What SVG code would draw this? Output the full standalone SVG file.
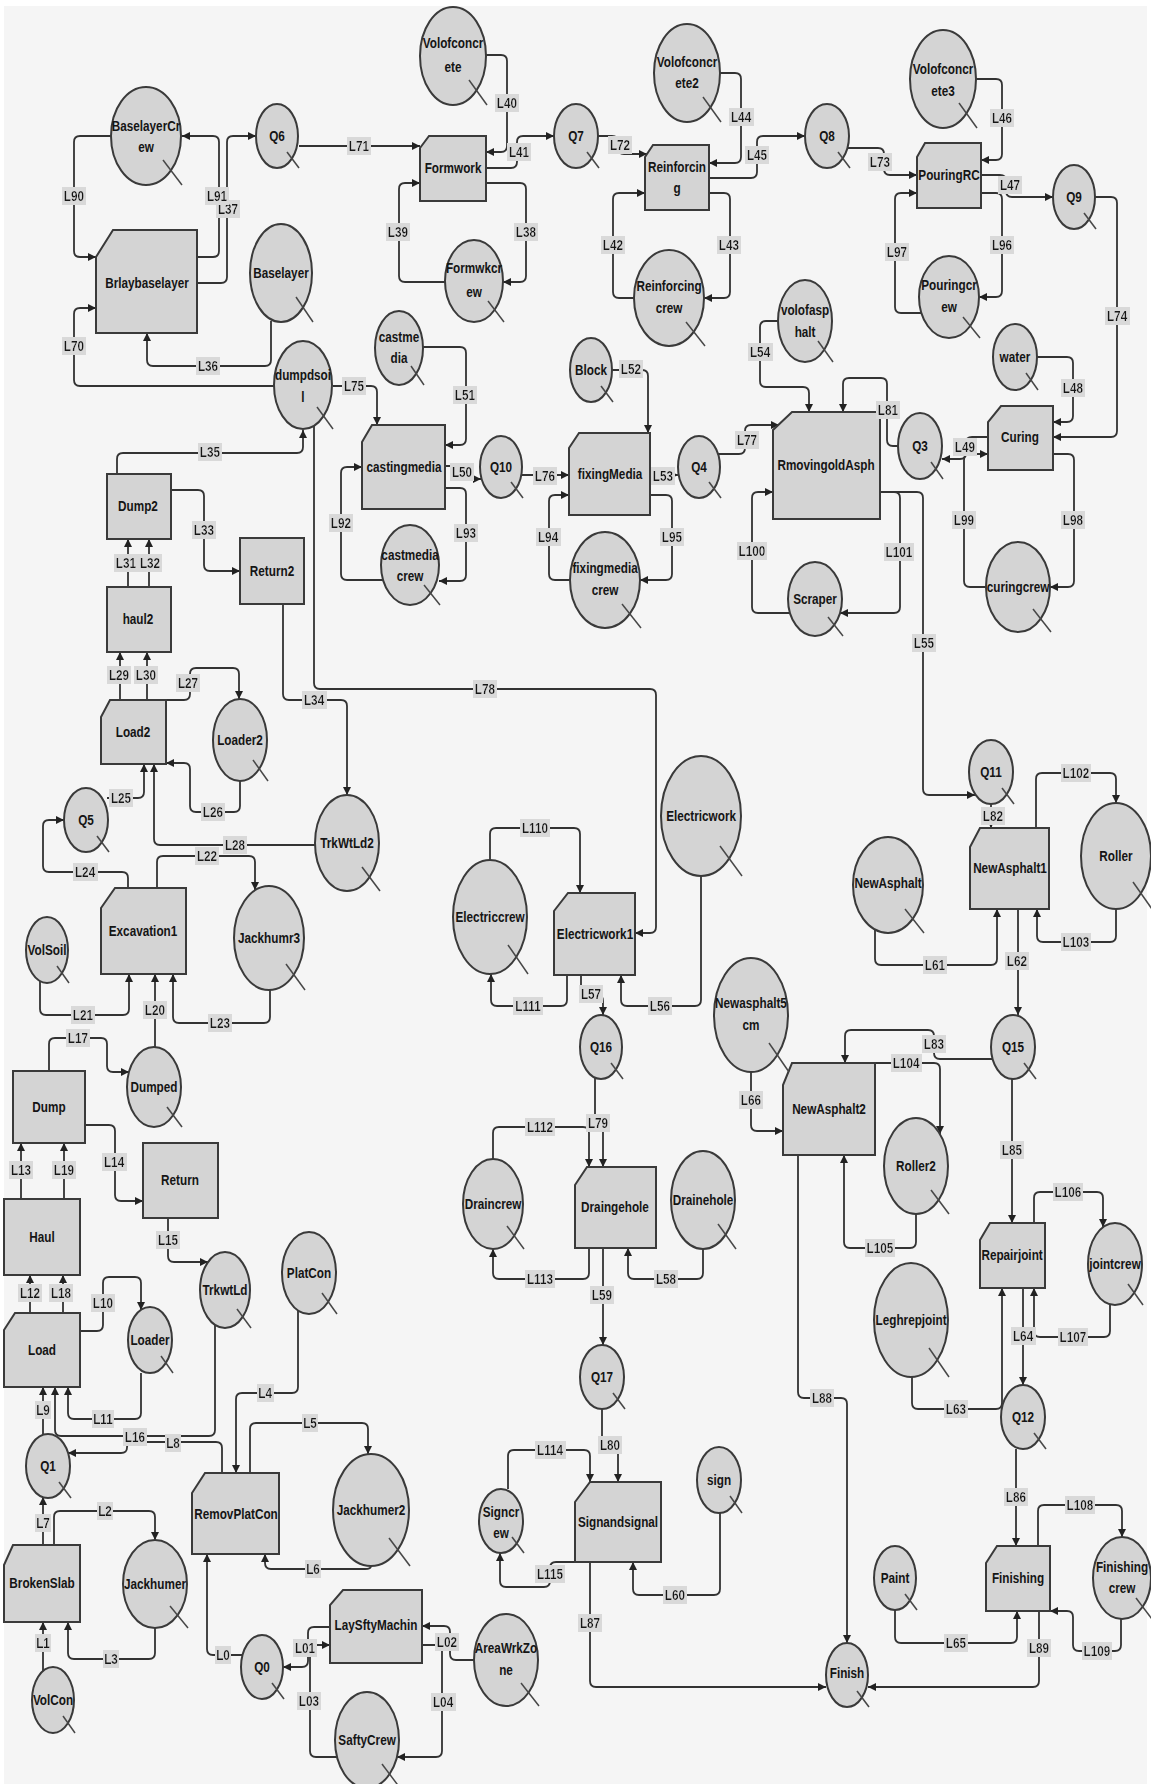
<svg xmlns="http://www.w3.org/2000/svg" width="1151" height="1784" viewBox="0 0 1151 1784">
<defs>
<style>
.c{fill:none;stroke:#333;stroke-width:1.8;marker-end:url(#ah)}
.n ellipse,.n path,.n rect{fill:#d4d4d4;stroke:#3a3a3a;stroke-width:2}
.n line{stroke:#474747;stroke-width:1.5}
.n text,.lb text{font-family:"Liberation Sans",Arial,sans-serif;font-weight:bold;font-size:14px;fill:#151515;text-anchor:middle;dominant-baseline:central;transform-box:fill-box;transform-origin:center;transform:scaleX(0.84)}
.lb text{filter:url(#bg)}
</style>
<marker id="ah" viewBox="0 0 10 10" refX="10" refY="5" markerWidth="9" markerHeight="8" markerUnits="userSpaceOnUse" orient="auto"><path d="M0,0L10,5L0,10z" fill="#222"/></marker>
<filter id="bg" x="-0.06" y="-0.02" width="1.12" height="1.04"><feFlood flood-color="#d9d9d9"/><feComposite in="SourceGraphic"/></filter>
</defs>
<rect width="1151" height="1784" fill="#ffffff"/>
<rect x="4" y="6" width="1143" height="1778" fill="#f5f5f5"/>
<g id="connectors">
<path id="L90" class="c" d="M111,136 H80 Q74,136 74,142 V251 Q74,257 80,257 H96"/>
<path id="L91" class="c" d="M197,257 H213 Q219,257 219,251 V142 Q219,136 213,136 H182"/>
<path id="L37" class="c" d="M197,283 H221 Q227,283 227,277 V142 Q227,136 233,136 H256"/>
<path id="L71" class="c" d="M299,146 H420"/>
<path id="L36" class="c" d="M271,321 V360 Q271,366 265,366 H153 Q147,366 147,360 V333"/>
<path id="L70" class="c" d="M274,386 H80 Q74,386 74,380 V314 Q74,308 80,308 H96"/>
<path id="L75" class="c" d="M333,386 H371 Q377,386 377,392 V425"/>
<path id="L40" class="c" d="M486,55 H501 Q507,55 507,61 V146 Q507,152 501,152 H486"/>
<path id="L41" class="c" d="M486,168 H511 Q517,168 517,162 V142 Q517,136 523,136 H554"/>
<path id="L72" class="c" d="M598,136 H612 Q618,136 618,142 V148 Q618,154 624,154 H647"/>
<path id="L44" class="c" d="M720,73 H735 Q741,73 741,79 V157 Q741,163 735,163 H709"/>
<path id="L45" class="c" d="M709,178 H751 Q757,178 757,172 V142 Q757,136 763,136 H805"/>
<path id="L42" class="c" d="M634,298 H619 Q613,298 613,292 V199 Q613,193 619,193 H645"/>
<path id="L43" class="c" d="M709,193 H724 Q730,193 730,199 V292 Q730,298 724,298 H704"/>
<path id="L38" class="c" d="M486,183 H520 Q526,183 526,189 V276 Q526,282 520,282 H503"/>
<path id="L39" class="c" d="M445,282 H405 Q399,282 399,276 V189 Q399,183 405,183 H420"/>
<path id="L46" class="c" d="M976,79 H996 Q1002,79 1002,85 V154 Q1002,160 996,160 H981"/>
<path id="L73" class="c" d="M848,148 H878 Q884,148 884,154 V169 Q884,175 890,175 H917"/>
<path id="L47" class="c" d="M981,175 H1000 Q1006,175 1006,181 V191 Q1006,197 1012,197 H1053"/>
<path id="L74" class="c" d="M1095,197 H1111 Q1117,197 1117,203 V431 Q1117,437 1111,437 H1053"/>
<path id="L96" class="c" d="M981,193 H996 Q1002,193 1002,199 V291 Q1002,297 996,297 H979"/>
<path id="L97" class="c" d="M921,313 H901 Q895,313 895,307 V199 Q895,193 901,193 H917"/>
<path id="L48" class="c" d="M1037,357 H1067 Q1073,357 1073,363 V416 Q1073,422 1067,422 H1053"/>
<path id="L54" class="c" d="M778,321 H766 Q760,321 760,327 V381 Q760,387 766,387 H803 Q809,387 809,393 V412"/>
<path id="L81" class="c" d="M898,446 H893 Q887,446 887,440 V384 Q887,378 881,378 H849 Q843,378 843,384 V412"/>
<path id="L49" class="c" d="M988,437 H972 Q966,437 966,443 V453 Q966,459 960,459 H942"/>
<path id="L99" class="c" d="M986,587 H970 Q964,587 964,581 V460 Q964,454 970,454 H988"/>
<path id="L98" class="c" d="M1053,454 H1068 Q1074,454 1074,460 V581 Q1074,587 1068,587 H1050"/>
<path id="L101" class="c" d="M880,492 H894 Q900,492 900,498 V607 Q900,613 894,613 H840"/>
<path id="L55" class="c" d="M880,492 H917 Q923,492 923,498 V789 Q923,795 929,795 H975"/>
<path id="L100" class="c" d="M790,613 H758 Q752,613 752,607 V498 Q752,492 758,492 H773"/>
<path id="L51" class="c" d="M423,347 H460 Q466,347 466,353 V439 Q466,445 460,445 H445"/>
<path id="L52" class="c" d="M612,370 H642 Q648,370 648,376 V433"/>
<path id="L77" class="c" d="M718,454 H739 Q745,454 745,448 V431 Q745,425 751,425 H779"/>
<path id="L50" class="c" d="M445,466 H460 L468,479 H481"/>
<path id="L76" class="c" d="M522,475 H569"/>
<path id="L53" class="c" d="M650,475 H678"/>
<path id="L92" class="c" d="M383,580 H347 Q341,580 341,574 V473 Q341,467 347,467 H362"/>
<path id="L93" class="c" d="M445,488 H460 Q466,488 466,494 V575 Q466,581 460,581 H439"/>
<path id="L94" class="c" d="M570,580 H555 Q549,580 549,574 V501 Q549,495 555,495 H569"/>
<path id="L95" class="c" d="M650,495 H666 Q672,495 672,501 V574 Q672,580 666,580 H640"/>
<path id="L35" class="c" d="M117,474 V459 Q117,453 123,453 H297 Q303,453 303,447 V430"/>
<path id="L78" class="c" d="M314,426 V683 Q314,689 320,689 H650 Q656,689 656,695 V927 Q656,933 650,933 H635"/>
<path id="L33" class="c" d="M171,490 H198 Q204,490 204,496 V565 Q204,571 210,571 H240"/>
<path id="L31" class="c" d="M128,587 V539"/>
<path id="L32" class="c" d="M149,587 V539"/>
<path id="L29" class="c" d="M120,700 V652"/>
<path id="L30" class="c" d="M147,700 V652"/>
<path id="L27" class="c" d="M166,700 H184 Q190,700 190,694 V674 Q190,668 196,668 H233 Q239,668 239,674 V699"/>
<path id="L26" class="c" d="M240,781 V806 Q240,812 234,812 H196 Q190,812 190,806 V769 Q190,763 184,763 H166"/>
<path id="L25" class="c" d="M107,798 H138 Q144,798 144,792 V764"/>
<path id="L28" class="c" d="M315,845 H160 Q154,845 154,839 V764"/>
<path id="L24" class="c" d="M128,888 V878 Q128,872 122,872 H49 Q43,872 43,866 V826 Q43,820 49,820 H64"/>
<path id="L22" class="c" d="M157,888 V862 Q157,856 163,856 H249 Q255,856 255,862 V890"/>
<path id="L34" class="c" d="M283,604 V694 Q283,700 289,700 H341 Q347,700 347,706 V795"/>
<path id="L23" class="c" d="M270,990 V1017 Q270,1023 264,1023 H179 Q173,1023 173,1017 V974"/>
<path id="L21" class="c" d="M40,981 V1009 Q40,1015 46,1015 H123 Q129,1015 129,1009 V974"/>
<path id="L20" class="c" d="M155,1047 V974"/>
<path id="L17" class="c" d="M49,1071 V1044 Q49,1038 55,1038 H101 Q107,1038 107,1044 V1066 Q107,1072 113,1072 H129"/>
<path id="L14" class="c" d="M85,1125 H109 Q115,1125 115,1131 V1195 Q115,1201 121,1201 H143"/>
<path id="L13" class="c" d="M21,1199 V1143"/>
<path id="L19" class="c" d="M64,1199 V1143"/>
<path id="L15" class="c" d="M168,1218 V1256 Q168,1262 174,1262 H208"/>
<path id="L12" class="c" d="M30,1313 V1275"/>
<path id="L18" class="c" d="M63,1313 V1275"/>
<path id="L10" class="c" d="M80,1331 H97 Q103,1331 103,1325 V1283 Q103,1277 109,1277 H135 Q141,1277 141,1283 V1310"/>
<path id="L11" class="c" d="M141,1373 V1413 Q141,1419 135,1419 H74 Q68,1419 68,1413 V1387"/>
<path id="L9" class="c" d="M43,1434 V1387"/>
<path id="L16" class="c" d="M215,1325 V1430 Q215,1436 209,1436 H61 Q55,1436 55,1430 V1387"/>
<path id="L8" class="c" d="M222,1473 V1448 Q222,1442 216,1442 H133 Q127,1442 127,1447.5 Q127,1453 121,1453 H68"/>
<path id="L7" class="c" d="M43,1545 V1497"/>
<path id="L2" class="c" d="M54,1545 V1517 Q54,1511 60,1511 H149 Q155,1511 155,1517 V1540"/>
<path id="L3" class="c" d="M155,1628 V1653 Q155,1659 149,1659 H74 Q68,1659 68,1653 V1622"/>
<path id="L1" class="c" d="M43,1671 V1622"/>
<path id="L4" class="c" d="M298,1310 V1387 Q298,1393 292,1393 H242 Q236,1393 236,1399 V1473"/>
<path id="L5" class="c" d="M250,1473 V1429 Q250,1423 256,1423 H362 Q368,1423 368,1429 V1454"/>
<path id="L6" class="c" d="M371,1566 Q371,1569 365,1569 H271 Q265,1569 265,1563 V1554"/>
<path id="L0" class="c" d="M242,1655 H213 Q207,1655 207,1649 V1554"/>
<path id="L01" class="c" d="M330,1627 H314 Q308,1627 308,1633 V1661 Q308,1667 302,1667 H283"/>
<path id="L03" class="c" d="M337,1757 H316 Q310,1757 310,1751 V1651 Q310,1645 316,1645 H330"/>
<path id="L02" class="c" d="M474,1660 H456 Q450,1660 450,1654 V1632 Q450,1626 444,1626 H422"/>
<path id="L04" class="c" d="M422,1645 H436 Q442,1645 442,1651 V1751 Q442,1757 436,1757 H397"/>
<path id="L110" class="c" d="M490,860 V834 Q490,828 496,828 H574 Q580,828 580,834 V893"/>
<path id="L111" class="c" d="M567,975 V1000 Q567,1006 561,1006 H497 Q491,1006 491,1000 V974"/>
<path id="L56" class="c" d="M701,876 V1000 Q701,1006 695,1006 H627 Q621,1006 621,1000 V975"/>
<path id="L57" class="c" d="M581,975 V989 Q581,995 587,995 H597 Q603,995 603,1001 V1015"/>
<path id="L79" class="c" d="M595,1078 V1115 L603,1127 V1167"/>
<path id="L112" class="c" d="M493,1159 V1133 Q493,1127 499,1127 H583 Q589,1127 589,1133 V1167"/>
<path id="L113" class="c" d="M589,1248 V1273 Q589,1279 583,1279 H499 Q493,1279 493,1273 V1249"/>
<path id="L58" class="c" d="M703,1249 V1273 Q703,1279 697,1279 H634 Q628,1279 628,1273 V1248"/>
<path id="L59" class="c" d="M603,1248 V1345"/>
<path id="L80" class="c" d="M602,1409 V1436 Q602,1442 608,1442 H612 Q618,1442 618,1448 V1482"/>
<path id="L114" class="c" d="M508,1489 V1456 Q508,1450 514,1450 H584 Q590,1450 590,1456 V1482"/>
<path id="L115" class="c" d="M575,1562 H556 Q550,1562 550,1568 V1581 Q550,1587 544,1587 H506 Q500,1587 500,1581 V1553"/>
<path id="L60" class="c" d="M720,1513 V1589 Q720,1595 714,1595 H639 Q633,1595 633,1589 V1562"/>
<path id="L87" class="c" d="M590,1562 V1681 Q590,1687 596,1687 H826"/>
<path id="L89" class="c" d="M1039,1611 V1681 Q1039,1687 1033,1687 H868"/>
<path id="L88" class="c" d="M798,1155 V1392 Q798,1398 804,1398 H841 Q847,1398 847,1404 V1643"/>
<path id="L65" class="c" d="M895,1610 V1637 Q895,1643 901,1643 H1011 Q1017,1643 1017,1637 V1611"/>
<path id="L109" class="c" d="M1121,1619 V1645 Q1121,1651 1115,1651 H1079 Q1073,1651 1073,1645 V1617 Q1073,1611 1067,1611 H1050"/>
<path id="L108" class="c" d="M1038,1546 V1511 Q1038,1505 1044,1505 H1116 Q1122,1505 1122,1511 V1537"/>
<path id="L86" class="c" d="M1016,1449 V1546"/>
<path id="L64" class="c" d="M1023,1288 V1385"/>
<path id="L63" class="c" d="M912,1377 V1403 Q912,1409 918,1409 H996 Q1002,1409 1002,1403 V1288"/>
<path id="L107" class="c" d="M1110,1305 V1331 Q1110,1337 1104,1337 H1040 Q1034,1337 1034,1331 V1288"/>
<path id="L106" class="c" d="M1034,1223 V1198 Q1034,1192 1040,1192 H1097 Q1103,1192 1103,1198 V1227"/>
<path id="L85" class="c" d="M1012,1079 V1223"/>
<path id="L83" class="c" d="M993,1059 H940 Q934,1059 934,1053 V1036 Q934,1030 928,1030 H851 Q845,1030 845,1036 V1063"/>
<path id="L104" class="c" d="M875,1063 H934 Q940,1063 940,1069 V1134"/>
<path id="L105" class="c" d="M916,1214 V1242 Q916,1248 910,1248 H850 Q844,1248 844,1242 V1155"/>
<path id="L66" class="c" d="M751,1072 V1125 Q751,1131 757,1131 H783"/>
<path id="L62" class="c" d="M1018,909 V1015"/>
<path id="L61" class="c" d="M875,930 V959 Q875,965 881,965 H991 Q997,965 997,959 V909"/>
<path id="L103" class="c" d="M1116,909 V936 Q1116,942 1110,942 H1043 Q1037,942 1037,936 V909"/>
<path id="L102" class="c" d="M1036,828 V779 Q1036,773 1042,773 H1110 Q1116,773 1116,779 V803"/>
<path id="L82" class="c" d="M991,804 V828"/>
</g>
<g id="nodes">
<g id="Brlaybaselayer" class="n"><path d="M113,230 H197 V333 H96 V257 Z"/><text x="147" y="283">Brlaybaselayer</text></g>
<g id="Formwork" class="n"><path d="M429,136 H486 V201 H420 V148 Z"/><text x="453" y="168">Formwork</text></g>
<g id="Reinforcing" class="n"><path d="M653,145 H709 V210 H645 V157 Z"/><text x="677" y="167">Reinforcin</text><text x="677" y="188">g</text></g>
<g id="PouringRC" class="n"><path d="M925,143 H981 V208 H917 V157 Z"/><text x="949" y="175">PouringRC</text></g>
<g id="Curing" class="n"><path d="M1001,406 H1053 V470 H988 V422 Z"/><text x="1020" y="437">Curing</text></g>
<g id="RmovingoldAsph" class="n"><path d="M792,412 H880 V519 H773 V430 Z"/><text x="826" y="465">RmovingoldAsph</text></g>
<g id="castingmedia" class="n"><path d="M372,425 H445 V509 H362 V442 Z"/><text x="404" y="467">castingmedia</text></g>
<g id="fixingMedia" class="n"><path d="M579,433 H650 V515 H569 V448 Z"/><text x="610" y="474">fixingMedia</text></g>
<g id="Dump2" class="n"><rect x="107" y="474" width="64" height="65"/><text x="138" y="506">Dump2</text></g>
<g id="Return2" class="n"><rect x="240" y="538" width="64" height="66"/><text x="272" y="571">Return2</text></g>
<g id="haul2" class="n"><rect x="107" y="587" width="64" height="65"/><text x="138" y="619">haul2</text></g>
<g id="Load2" class="n"><path d="M110,700 H166 V764 H101 V717 Z"/><text x="133" y="732">Load2</text></g>
<g id="Excavation1" class="n"><path d="M115,888 H186 V974 H101 V908 Z"/><text x="143" y="931">Excavation1</text></g>
<g id="Electricwork1" class="n"><path d="M568,893 H635 V975 H554 V911 Z"/><text x="595" y="934">Electricwork1</text></g>
<g id="NewAsphalt1" class="n"><path d="M980,828 H1049 V909 H970 V847 Z"/><text x="1010" y="868">NewAsphalt1</text></g>
<g id="NewAsphalt2" class="n"><path d="M792,1063 H875 V1155 H783 V1085 Z"/><text x="829" y="1109">NewAsphalt2</text></g>
<g id="Draingehole" class="n"><path d="M587,1167 H656 V1248 H575 V1185 Z"/><text x="615" y="1207">Draingehole</text></g>
<g id="Repairjoint" class="n"><path d="M990,1223 H1045 V1288 H980 V1240 Z"/><text x="1012" y="1255">Repairjoint</text></g>
<g id="Signandsignal" class="n"><path d="M590,1482 H661 V1562 H575 V1502 Z"/><text x="618" y="1522">Signandsignal</text></g>
<g id="Finishing" class="n"><path d="M997,1546 H1050 V1611 H986 V1563 Z"/><text x="1018" y="1578">Finishing</text></g>
<g id="Dump" class="n"><rect x="13" y="1071" width="72" height="72"/><text x="49" y="1107">Dump</text></g>
<g id="Return" class="n"><rect x="143" y="1143" width="75" height="75"/><text x="180" y="1180">Return</text></g>
<g id="Haul" class="n"><rect x="4" y="1199" width="76" height="76"/><text x="42" y="1237">Haul</text></g>
<g id="Load" class="n"><path d="M15,1313 H80 V1387 H4 V1330 Z"/><text x="42" y="1350">Load</text></g>
<g id="RemovPlatCon" class="n"><path d="M205,1473 H279 V1554 H192 V1493 Z"/><text x="236" y="1514">RemovPlatCon</text></g>
<g id="BrokenSlab" class="n"><path d="M13,1545 H80 V1622 H4 V1565 Z"/><text x="42" y="1583">BrokenSlab</text></g>
<g id="LaySftyMachin" class="n"><path d="M343,1590 H422 V1663 H330 V1605 Z"/><text x="376" y="1625">LaySftyMachin</text></g>

<g id="BaselayerCrew" class="n" transform="translate(146,136)"><ellipse rx="35" ry="49"/><line x1="17" y1="24" x2="36" y2="49"/><text y="-10">BaselayerCr</text><text y="11">ew</text></g>
<g id="Q6" class="n" transform="translate(277,136)"><ellipse rx="21" ry="32"/><line x1="10" y1="16" x2="22" y2="32"/><text>Q6</text></g>
<g id="Baselayer" class="n" transform="translate(281,273)"><ellipse rx="31" ry="49"/><line x1="15" y1="24" x2="32" y2="49"/><text>Baselayer</text></g>
<g id="dumpdsoil" class="n" transform="translate(303,385)"><ellipse rx="29" ry="44"/><line x1="14" y1="22" x2="30" y2="44"/><text y="-10">dumpdsoi</text><text y="12">l</text></g>
<g id="Volofconcrete" class="n" transform="translate(453,56)"><ellipse rx="33" ry="49"/><line x1="16" y1="24" x2="34" y2="49"/><text y="-13">Volofconcr</text><text y="11">ete</text></g>
<g id="Q7" class="n" transform="translate(576,136)"><ellipse rx="22" ry="32"/><line x1="11" y1="16" x2="23" y2="32"/><text>Q7</text></g>
<g id="Formwkcrew" class="n" transform="translate(474,281)"><ellipse rx="29" ry="41"/><line x1="14" y1="20" x2="30" y2="41"/><text y="-13">Formwkcr</text><text y="11">ew</text></g>
<g id="Volofconcrete2" class="n" transform="translate(687,73)"><ellipse rx="33" ry="49"/><line x1="16" y1="24" x2="34" y2="49"/><text y="-11">Volofconcr</text><text y="10">ete2</text></g>
<g id="Reinforcingcrew" class="n" transform="translate(669,298)"><ellipse rx="35" ry="48"/><line x1="17" y1="24" x2="36" y2="48"/><text y="-12">Reinforcing</text><text y="10">crew</text></g>
<g id="Q8" class="n" transform="translate(827,136)"><ellipse rx="22" ry="32"/><line x1="11" y1="16" x2="23" y2="32"/><text>Q8</text></g>
<g id="Volofconcrete3" class="n" transform="translate(943,79)"><ellipse rx="33" ry="49"/><line x1="16" y1="24" x2="34" y2="49"/><text y="-10">Volofconcr</text><text y="12">ete3</text></g>
<g id="Q9" class="n" transform="translate(1074,197)"><ellipse rx="21" ry="32"/><line x1="10" y1="16" x2="22" y2="32"/><text>Q9</text></g>
<g id="Pouringcrew" class="n" transform="translate(949,297)"><ellipse rx="30" ry="41"/><line x1="14" y1="20" x2="31" y2="41"/><text y="-12">Pouringcr</text><text y="10">ew</text></g>
<g id="castmedia" class="n" transform="translate(399,348)"><ellipse rx="24" ry="37"/><line x1="12" y1="18" x2="25" y2="37"/><text y="-11">castme</text><text y="10">dia</text></g>
<g id="Block" class="n" transform="translate(591,370)"><ellipse rx="21" ry="32"/><line x1="10" y1="16" x2="22" y2="32"/><text>Block</text></g>
<g id="volofasphalt" class="n" transform="translate(805,321)"><ellipse rx="27" ry="41"/><line x1="13" y1="20" x2="28" y2="41"/><text y="-11">volofasp</text><text y="11">halt</text></g>
<g id="water" class="n" transform="translate(1015,357)"><ellipse rx="22" ry="33"/><line x1="11" y1="16" x2="23" y2="33"/><text>water</text></g>
<g id="Q3" class="n" transform="translate(920,446)"><ellipse rx="22" ry="33"/><line x1="11" y1="16" x2="23" y2="33"/><text>Q3</text></g>
<g id="Q10" class="n" transform="translate(501,467)"><ellipse rx="21" ry="31"/><line x1="10" y1="15" x2="22" y2="31"/><text>Q10</text></g>
<g id="castmediacrew" class="n" transform="translate(410,565)"><ellipse rx="29" ry="40"/><line x1="14" y1="20" x2="30" y2="40"/><text y="-10">castmedia</text><text y="11">crew</text></g>
<g id="Q4" class="n" transform="translate(699,467)"><ellipse rx="21" ry="31"/><line x1="10" y1="15" x2="22" y2="31"/><text>Q4</text></g>
<g id="fixingmediacrew" class="n" transform="translate(605,580)"><ellipse rx="35" ry="48"/><line x1="17" y1="24" x2="36" y2="48"/><text y="-12">fixingmedia</text><text y="10">crew</text></g>
<g id="Scraper" class="n" transform="translate(815,599)"><ellipse rx="27" ry="37"/><line x1="13" y1="18" x2="28" y2="37"/><text>Scraper</text></g>
<g id="curingcrew" class="n" transform="translate(1018,587)"><ellipse rx="32" ry="45"/><line x1="15" y1="22" x2="33" y2="45"/><text>curingcrew</text></g>
<g id="Loader2" class="n" transform="translate(240,740)"><ellipse rx="27" ry="41"/><line x1="13" y1="20" x2="28" y2="41"/><text>Loader2</text></g>
<g id="Q5" class="n" transform="translate(86,820)"><ellipse rx="22" ry="32"/><line x1="11" y1="16" x2="23" y2="32"/><text>Q5</text></g>
<g id="TrkWtLd2" class="n" transform="translate(347,843)"><ellipse rx="32" ry="48"/><line x1="15" y1="24" x2="33" y2="48"/><text>TrkWtLd2</text></g>
<g id="Electricwork" class="n" transform="translate(701,816)"><ellipse rx="40" ry="60"/><line x1="19" y1="30" x2="41" y2="60"/><text>Electricwork</text></g>
<g id="Electriccrew" class="n" transform="translate(490,917)"><ellipse rx="37" ry="57"/><line x1="18" y1="28" x2="38" y2="57"/><text>Electriccrew</text></g>
<g id="Q11" class="n" transform="translate(991,772)"><ellipse rx="22" ry="32"/><line x1="11" y1="16" x2="23" y2="32"/><text>Q11</text></g>
<g id="Roller" class="n" transform="translate(1116,856)"><ellipse rx="35" ry="53"/><line x1="17" y1="26" x2="36" y2="53"/><text>Roller</text></g>
<g id="NewAsphalt" class="n" transform="translate(888,885)"><ellipse rx="35" ry="48"/><line x1="17" y1="24" x2="36" y2="48"/><text y="-2">NewAsphalt</text></g>
<g id="Q15" class="n" transform="translate(1013,1047)"><ellipse rx="22" ry="32"/><line x1="11" y1="16" x2="23" y2="32"/><text>Q15</text></g>
<g id="Newasphalt5cm" class="n" transform="translate(751,1015)"><ellipse rx="37" ry="57"/><line x1="18" y1="28" x2="38" y2="57"/><text y="-12">Newasphalt5</text><text y="10">cm</text></g>
<g id="Roller2" class="n" transform="translate(916,1166)"><ellipse rx="32" ry="48"/><line x1="15" y1="24" x2="33" y2="48"/><text>Roller2</text></g>
<g id="jointcrew" class="n" transform="translate(1115,1264)"><ellipse rx="27" ry="41"/><line x1="13" y1="20" x2="28" y2="41"/><text>jointcrew</text></g>
<g id="Leghrepjoint" class="n" transform="translate(911,1320)"><ellipse rx="37" ry="57"/><line x1="18" y1="28" x2="38" y2="57"/><text>Leghrepjoint</text></g>
<g id="Q12" class="n" transform="translate(1023,1417)"><ellipse rx="22" ry="32"/><line x1="11" y1="16" x2="23" y2="32"/><text>Q12</text></g>
<g id="Finishingcrew" class="n" transform="translate(1122,1578)"><ellipse rx="29" ry="41"/><line x1="14" y1="20" x2="30" y2="41"/><text y="-11">Finishing</text><text y="10">crew</text></g>
<g id="Paint" class="n" transform="translate(895,1578)"><ellipse rx="21" ry="32"/><line x1="10" y1="16" x2="22" y2="32"/><text>Paint</text></g>
<g id="Finish" class="n" transform="translate(847,1675)"><ellipse rx="21" ry="32"/><line x1="10" y1="16" x2="22" y2="32"/><text y="-2">Finish</text></g>
<g id="Q16" class="n" transform="translate(601,1047)"><ellipse rx="21" ry="32"/><line x1="10" y1="16" x2="22" y2="32"/><text>Q16</text></g>
<g id="Draincrew" class="n" transform="translate(493,1204)"><ellipse rx="30" ry="45"/><line x1="14" y1="22" x2="31" y2="45"/><text>Draincrew</text></g>
<g id="Drainehole" class="n" transform="translate(703,1200)"><ellipse rx="32" ry="49"/><line x1="15" y1="24" x2="33" y2="49"/><text>Drainehole</text></g>
<g id="Q17" class="n" transform="translate(602,1377)"><ellipse rx="22" ry="32"/><line x1="11" y1="16" x2="23" y2="32"/><text>Q17</text></g>
<g id="Signcrew" class="n" transform="translate(501,1521)"><ellipse rx="22" ry="32"/><line x1="11" y1="16" x2="23" y2="32"/><text y="-9">Signcr</text><text y="12">ew</text></g>
<g id="sign" class="n" transform="translate(719,1480)"><ellipse rx="22" ry="33"/><line x1="11" y1="16" x2="23" y2="33"/><text>sign</text></g>
<g id="AreaWrkZone" class="n" transform="translate(506,1660)"><ellipse rx="32" ry="46"/><line x1="15" y1="23" x2="33" y2="46"/><text y="-12">AreaWrkZo</text><text y="10">ne</text></g>
<g id="SaftyCrew" class="n" transform="translate(367,1740)"><ellipse rx="32" ry="48"/><line x1="15" y1="24" x2="33" y2="48"/><text>SaftyCrew</text></g>
<g id="Jackhumr3" class="n" transform="translate(269,938)"><ellipse rx="35" ry="52"/><line x1="17" y1="26" x2="36" y2="52"/><text>Jackhumr3</text></g>
<g id="VolSoil" class="n" transform="translate(47,950)"><ellipse rx="21" ry="33"/><line x1="10" y1="16" x2="22" y2="33"/><text>VolSoil</text></g>
<g id="Dumped" class="n" transform="translate(154,1087)"><ellipse rx="27" ry="40"/><line x1="13" y1="20" x2="28" y2="40"/><text>Dumped</text></g>
<g id="TrkwtLd" class="n" transform="translate(225,1290)"><ellipse rx="25" ry="38"/><line x1="12" y1="19" x2="26" y2="38"/><text>TrkwtLd</text></g>
<g id="PlatCon" class="n" transform="translate(309,1273)"><ellipse rx="27" ry="41"/><line x1="13" y1="20" x2="28" y2="41"/><text>PlatCon</text></g>
<g id="Loader" class="n" transform="translate(150,1340)"><ellipse rx="22" ry="33"/><line x1="11" y1="16" x2="23" y2="33"/><text>Loader</text></g>
<g id="Q1" class="n" transform="translate(48,1466)"><ellipse rx="22" ry="32"/><line x1="11" y1="16" x2="23" y2="32"/><text>Q1</text></g>
<g id="Jackhumer" class="n" transform="translate(155,1584)"><ellipse rx="32" ry="44"/><line x1="15" y1="22" x2="33" y2="44"/><text>Jackhumer</text></g>
<g id="VolCon" class="n" transform="translate(53,1700)"><ellipse rx="21" ry="33"/><line x1="10" y1="16" x2="22" y2="33"/><text>VolCon</text></g>
<g id="Q0" class="n" transform="translate(262,1667)"><ellipse rx="21" ry="32"/><line x1="10" y1="16" x2="22" y2="32"/><text>Q0</text></g>
<g id="Jackhumer2" class="n" transform="translate(371,1510)"><ellipse rx="38" ry="56"/><line x1="18" y1="28" x2="39" y2="56"/><text>Jackhumer2</text></g>
</g>
<g id="connector-labels" class="lb">
<text x="74" y="196">L90</text><text x="228" y="209">L37</text><text x="217" y="196">L91</text><text x="359" y="146">L71</text>
<text x="208" y="366">L36</text><text x="74" y="346">L70</text><text x="354" y="386">L75</text><text x="210" y="452">L35</text>
<text x="507" y="103">L40</text><text x="519" y="152">L41</text><text x="620" y="145">L72</text><text x="741" y="117">L44</text>
<text x="757" y="155">L45</text><text x="613" y="245">L42</text><text x="729" y="245">L43</text><text x="526" y="232">L38</text>
<text x="398" y="232">L39</text><text x="465" y="395">L51</text><text x="631" y="369">L52</text><text x="760" y="352">L54</text>
<text x="747" y="440">L77</text><text x="1002" y="118">L46</text><text x="880" y="162">L73</text><text x="1010" y="185">L47</text>
<text x="1117" y="316">L74</text><text x="1002" y="245">L96</text><text x="897" y="252">L97</text><text x="1073" y="388">L48</text>
<text x="888" y="410">L81</text><text x="965" y="447">L49</text><text x="964" y="520">L99</text><text x="1073" y="520">L98</text>
<text x="899" y="552">L101</text><text x="924" y="643">L55</text><text x="752" y="551">L100</text><text x="993" y="816">L82</text>
<text x="1076" y="773">L102</text><text x="1076" y="942">L103</text><text x="935" y="965">L61</text><text x="1017" y="961">L62</text>
<text x="934" y="1044">L83</text><text x="906" y="1063">L104</text><text x="880" y="1248">L105</text><text x="1012" y="1150">L85</text>
<text x="1068" y="1192">L106</text><text x="1073" y="1337">L107</text><text x="1023" y="1336">L64</text><text x="956" y="1409">L63</text>
<text x="1016" y="1497">L86</text><text x="1080" y="1505">L108</text><text x="1097" y="1651">L109</text><text x="1039" y="1648">L89</text>
<text x="956" y="1643">L65</text><text x="822" y="1398">L88</text><text x="590" y="1623">L87</text><text x="204" y="530">L33</text>
<text x="126" y="563">L31</text><text x="150" y="563">L32</text><text x="119" y="675">L29</text><text x="146" y="675">L30</text>
<text x="188" y="683">L27</text><text x="213" y="812">L26</text><text x="121" y="798">L25</text><text x="235" y="845">L28</text>
<text x="85" y="872">L24</text><text x="207" y="856">L22</text><text x="314" y="700">L34</text><text x="485" y="689">L78</text>
<text x="341" y="523">L92</text><text x="462" y="472">L50</text><text x="545" y="476">L76</text><text x="663" y="476">L53</text>
<text x="466" y="533">L93</text><text x="548" y="537">L94</text><text x="672" y="537">L95</text><text x="535" y="828">L110</text>
<text x="528" y="1006">L111</text><text x="591" y="994">L57</text><text x="660" y="1006">L56</text><text x="598" y="1123">L79</text>
<text x="540" y="1127">L112</text><text x="540" y="1279">L113</text><text x="666" y="1279">L58</text><text x="602" y="1295">L59</text>
<text x="751" y="1100">L66</text><text x="610" y="1445">L80</text><text x="550" y="1450">L114</text><text x="550" y="1574">L115</text>
<text x="675" y="1595">L60</text><text x="447" y="1642">L02</text><text x="443" y="1702">L04</text><text x="83" y="1015">L21</text>
<text x="155" y="1010">L20</text><text x="220" y="1023">L23</text><text x="78" y="1038">L17</text><text x="114" y="1162">L14</text>
<text x="21" y="1170">L13</text><text x="64" y="1170">L19</text><text x="168" y="1240">L15</text><text x="30" y="1293">L12</text>
<text x="61" y="1293">L18</text><text x="103" y="1303">L10</text><text x="103" y="1419">L11</text><text x="43" y="1410">L9</text>
<text x="135" y="1437">L16</text><text x="173" y="1443">L8</text><text x="43" y="1523">L7</text><text x="105" y="1511">L2</text>
<text x="111" y="1659">L3</text><text x="43" y="1643">L1</text><text x="265" y="1393">L4</text><text x="310" y="1423">L5</text>
<text x="313" y="1569">L6</text><text x="223" y="1655">L0</text><text x="305" y="1648">L01</text><text x="309" y="1701">L03</text>
</g>
</svg>
